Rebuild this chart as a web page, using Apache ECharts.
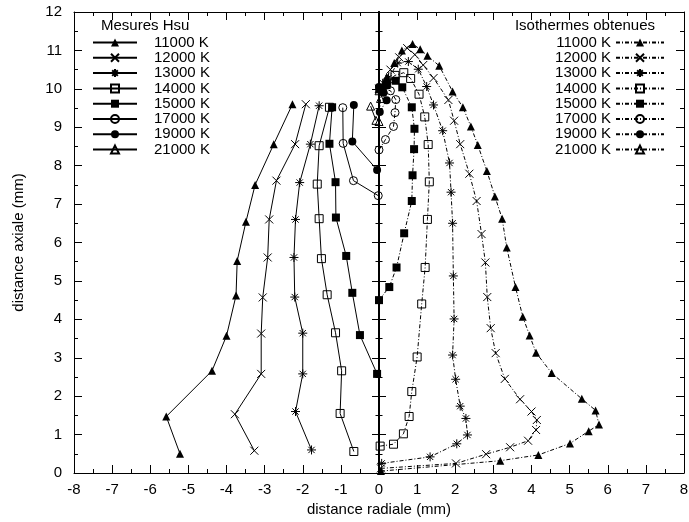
<!DOCTYPE html>
<html>
<head>
<meta charset="utf-8">
<script src="https://cdn.jsdelivr.net/npm/echarts@6/dist/echarts.min.js"></script>
<style>
  html, body { margin: 0; padding: 0; background: #fff; }
  #chart { width: 689px; height: 522px; }
</style>
</head>
<body>
<div id="chart"></div>
<script>
// Temperatures shown in both legends
const temperatures = ['11000 K', '12000 K', '13000 K', '14000 K', '15000 K', '17000 K', '19000 K', '21000 K'];

// Axis ranges and tick steps
const xRange = [-8, 8];
const yRange = [0, 12];

// Mesures Hsu: [radial distance (mm), axial distance (mm)]
const hsu11000 = [[-5.22, 0.5], [-5.58, 1.47], [-4.38, 2.66], [-4.0, 3.57], [-3.75, 4.62], [-3.72, 5.52], [-3.49, 6.54], [-3.25, 7.5], [-2.76, 8.56], [-2.27, 9.6]];
const hsu12000 = [[-3.27, 0.58], [-3.78, 1.53], [-3.09, 2.58], [-3.09, 3.63], [-3.05, 4.57], [-2.92, 5.61], [-2.88, 6.6], [-2.69, 7.61], [-2.2, 8.56], [-1.92, 9.6]];
const hsu13000 = [[-1.77, 0.6], [-2.19, 1.6], [-2.0, 2.58], [-2.0, 3.64], [-2.21, 4.58], [-2.23, 5.61], [-2.19, 6.6], [-2.08, 7.56], [-1.8, 8.56], [-1.57, 9.56]];
const hsu14000 = [[-0.66, 0.56], [-1.02, 1.55], [-0.98, 2.66], [-1.14, 3.65], [-1.36, 4.64], [-1.51, 5.58], [-1.57, 6.62], [-1.62, 7.52], [-1.57, 8.52], [-1.3, 9.52]];
const hsu15000 = [[-0.05, 2.58], [-0.5, 3.59], [-0.7, 4.69], [-0.86, 5.65], [-1.13, 6.65], [-1.14, 7.57], [-1.3, 8.57], [-1.23, 9.52]];
const hsu17000 = [[-0.02, 7.22], [-0.67, 7.61], [-0.94, 8.58], [-0.95, 9.51]];
const hsu19000 = [[-0.05, 7.89], [-0.7, 8.63], [-0.66, 9.58]];
const hsu21000 = [[-0.08, 9.18], [-0.22, 9.55]];

// Isothermes obtenues: [radial distance (mm), axial distance (mm)]
const iso11000 = [[0.05, 0.05], [3.18, 0.32], [4.18, 0.47], [5.01, 0.77], [5.5, 1.09], [5.77, 1.26], [5.68, 1.63], [5.32, 1.93], [4.53, 2.6], [4.12, 3.13], [3.95, 3.58], [3.77, 4.07], [3.58, 4.84], [3.35, 5.87], [3.23, 6.62], [3.04, 7.2], [2.83, 7.86], [2.59, 8.54], [2.41, 9.02], [2.2, 9.52], [1.93, 9.93], [1.58, 10.6], [1.27, 10.86], [1.08, 11.03], [0.88, 11.17], [0.6, 11.0], [0.4, 10.67], [0.2, 10.3], [0.0, 10.0]];
const iso12000 = [[0.05, 0.12], [2.02, 0.25], [2.81, 0.49], [3.44, 0.67], [3.91, 0.84], [4.12, 1.12], [4.14, 1.38], [4.0, 1.6], [3.7, 1.92], [3.3, 2.45], [3.06, 3.12], [2.93, 3.77], [2.84, 4.58], [2.79, 5.48], [2.69, 6.22], [2.56, 7.08], [2.37, 7.79], [2.13, 8.56], [1.97, 9.17], [1.82, 9.71], [1.43, 10.28], [1.16, 10.62], [0.94, 10.89], [0.74, 11.06], [0.53, 10.82], [0.3, 10.5], [0.1, 10.15], [0.0, 10.0]];
const iso13000 = [[0.07, 0.25], [1.34, 0.42], [2.04, 0.76], [2.32, 0.99], [2.28, 1.42], [2.13, 1.74], [2.01, 2.44], [1.93, 3.07], [1.97, 4.01], [1.95, 5.13], [1.93, 6.5], [1.89, 7.31], [1.85, 8.07], [1.67, 8.91], [1.43, 9.58], [1.25, 10.06], [1.03, 10.51], [0.77, 10.71], [0.49, 10.67], [0.25, 10.28], [0.05, 10.02]];
const iso14000 = [[0.03, 0.7], [0.38, 0.75], [0.64, 1.02], [0.79, 1.47], [0.86, 2.12], [1.0, 3.02], [1.12, 4.4], [1.21, 5.35], [1.27, 6.6], [1.32, 7.58], [1.29, 8.55], [1.2, 9.27], [1.05, 9.86], [0.83, 10.27], [0.65, 10.42], [0.42, 10.35], [0.2, 10.15], [0.02, 10.0]];
const iso15000 = [[0.0, 4.5], [0.27, 4.84], [0.46, 5.35], [0.66, 6.24], [0.86, 7.08], [0.88, 7.75], [0.92, 8.43], [0.93, 8.96], [0.86, 9.52], [0.61, 10.04], [0.44, 10.21], [0.2, 10.1], [0.03, 10.0]];
const iso17000 = [[0.0, 8.41], [0.17, 8.68], [0.38, 9.02], [0.42, 9.38], [0.44, 9.72], [0.3, 9.95], [0.08, 10.02]];
const iso19000 = [[0.02, 9.4], [0.2, 9.7], [0.12, 9.9], [0.0, 10.05]];
const iso21000 = [[0.0, 9.15], [0.04, 9.75], [0.0, 9.95]];

const hsuData = [hsu11000, hsu12000, hsu13000, hsu14000, hsu15000, hsu17000, hsu19000, hsu21000];
const isoData = [iso11000, iso12000, iso13000, iso14000, iso15000, iso17000, iso19000, iso21000];

const FONT = 'Liberation Sans, Arial, sans-serif';
const INK = '#000';

// Point styles, one per temperature (gnuplot-like point types)
const CROSS = 'path://M0,0L10,10M10,0L0,10';
const STAR = 'path://M1.5,1.5L8.5,8.5M8.5,1.5L1.5,8.5M5,0L5,10M0,5L10,5';
const pointStyles = [
  { symbol: 'triangle', size: 8, filled: true },
  { symbol: CROSS, size: 8, filled: false, strokeOnly: true },
  { symbol: STAR, size: 9, filled: false, strokeOnly: true },
  { symbol: 'rect', size: 8, filled: false },
  { symbol: 'rect', size: 8, filled: true },
  { symbol: 'circle', size: 8, filled: false },
  { symbol: 'circle', size: 8, filled: true },
  { symbol: 'triangle', size: 8, filled: false }
];

function itemStyleOf(p) {
  return p.filled
    ? { color: INK, borderColor: INK, borderWidth: 0 }
    : { color: 'rgba(0,0,0,0)', borderColor: INK, borderWidth: 1 };
}

const HSU = 'Mesures Hsu ';
const ISO = 'Isothermes obtenues ';

const series = [];
temperatures.forEach((t, i) => {
  const p = pointStyles[i];
  series.push({
    name: HSU + t,
    type: 'line',
    data: hsuData[i],
    symbol: p.symbol,
    symbolSize: p.size,
    showAllSymbol: true,
    itemStyle: itemStyleOf(p),
    lineStyle: { color: INK, width: 1, type: 'solid' },
    emphasis: { disabled: true },
    z: 3
  });
});
temperatures.forEach((t, i) => {
  const p = pointStyles[i];
  series.push({
    name: ISO + t,
    type: 'line',
    data: isoData[i],
    symbol: p.symbol,
    symbolSize: p.size,
    showAllSymbol: true,
    itemStyle: itemStyleOf(p),
    lineStyle: { color: INK, width: 1, type: [4, 2, 1, 2] },
    emphasis: { disabled: true },
    z: 3
  });
});

const tickLabel = { color: INK, fontFamily: FONT, fontSize: 15 };

function frameAxis(extra) {
  return Object.assign({
    type: 'value',
    axisLine: { show: true, onZero: false, lineStyle: { color: INK, width: 1 } },
    axisTick: { show: true, inside: true, length: 8, lineStyle: { color: INK, width: 1 } },
    minorTick: { show: true, splitNumber: 2, length: 4, lineStyle: { color: INK, width: 1 } },
    splitLine: { show: false },
    minorSplitLine: { show: false }
  }, extra);
}

const option = {
  animation: false,
  backgroundColor: '#fff',
  grid: { left: 74, right: 5, top: 12, bottom: 49, outerBoundsMode: 'none' },
  title: [
    { text: 'Mesures Hsu', left: 101, top: 18, padding: 0,
      textStyle: { fontFamily: FONT, fontSize: 15, fontWeight: 'normal', color: INK } },
    { text: 'Isothermes obtenues', right: 34, top: 18, padding: 0,
      textStyle: { fontFamily: FONT, fontSize: 15, fontWeight: 'normal', color: INK } }
  ],
  legend: [
    {
      data: temperatures.map(t => HSU + t),
      orient: 'vertical', left: 92, top: 35, padding: 0,
      itemWidth: 44, itemHeight: 10, itemGap: 0.3,
      selectedMode: false,
      formatter: name => name.slice(HSU.length),
      textStyle: { fontFamily: FONT, fontSize: 15, color: INK, padding: [0, 0, 0, 12] }
    },
    {
      data: temperatures.map(t => ISO + t),
      orient: 'vertical', right: 24, top: 35, padding: 0, align: 'right',
      itemWidth: 48, itemHeight: 10, itemGap: 0.3,
      selectedMode: false,
      formatter: name => name.slice(ISO.length),
      textStyle: { fontFamily: FONT, fontSize: 15, color: INK }
    }
  ],
  xAxis: [
    frameAxis({
      position: 'bottom', min: xRange[0], max: xRange[1], interval: 1,
      name: 'distance radiale (mm)', nameLocation: 'middle', nameGap: 27,
      nameTextStyle: { fontFamily: FONT, fontSize: 15, color: INK },
      axisLabel: Object.assign({ margin: 9 }, tickLabel)
    }),
    frameAxis({
      position: 'top', min: xRange[0], max: xRange[1], interval: 1,
      axisLabel: { show: false }
    })
  ],
  yAxis: [
    frameAxis({
      position: 'left', min: yRange[0], max: yRange[1], interval: 1,
      name: 'distance axiale (mm)', nameLocation: 'middle', nameGap: 48,
      nameTextStyle: { fontFamily: FONT, fontSize: 15, color: INK },
      axisLabel: Object.assign({ margin: 12 }, tickLabel)
    }),
    frameAxis({
      position: 'right', min: yRange[0], max: yRange[1], interval: 1,
      axisLabel: { show: false }
    }),
    // zero axis: thick line at x = 0 with ticks on both sides
    {
      type: 'value', position: 'left', min: yRange[0], max: yRange[1], interval: 1,
      axisLine: { show: true, onZero: true, onZeroAxisIndex: 0, lineStyle: { color: INK, width: 2 } },
      axisTick: { show: true, inside: true, length: 7, lineStyle: { color: INK, width: 1 } },
      minorTick: { show: true, splitNumber: 2, length: 3.5, lineStyle: { color: INK, width: 1 } },
      axisLabel: { show: false },
      splitLine: { show: false }
    },
    {
      type: 'value', position: 'right', min: yRange[0], max: yRange[1], interval: 1,
      axisLine: { show: true, onZero: true, onZeroAxisIndex: 0, lineStyle: { color: INK, width: 2 } },
      axisTick: { show: true, inside: true, length: 7, lineStyle: { color: INK, width: 1 } },
      minorTick: { show: true, splitNumber: 2, length: 3.5, lineStyle: { color: INK, width: 1 } },
      axisLabel: { show: false },
      splitLine: { show: false }
    }
  ],
  series: series
};

const chart = echarts.init(document.getElementById('chart'), null, { renderer: 'canvas' });
chart.setOption(option);
</script>
</body>
</html>
